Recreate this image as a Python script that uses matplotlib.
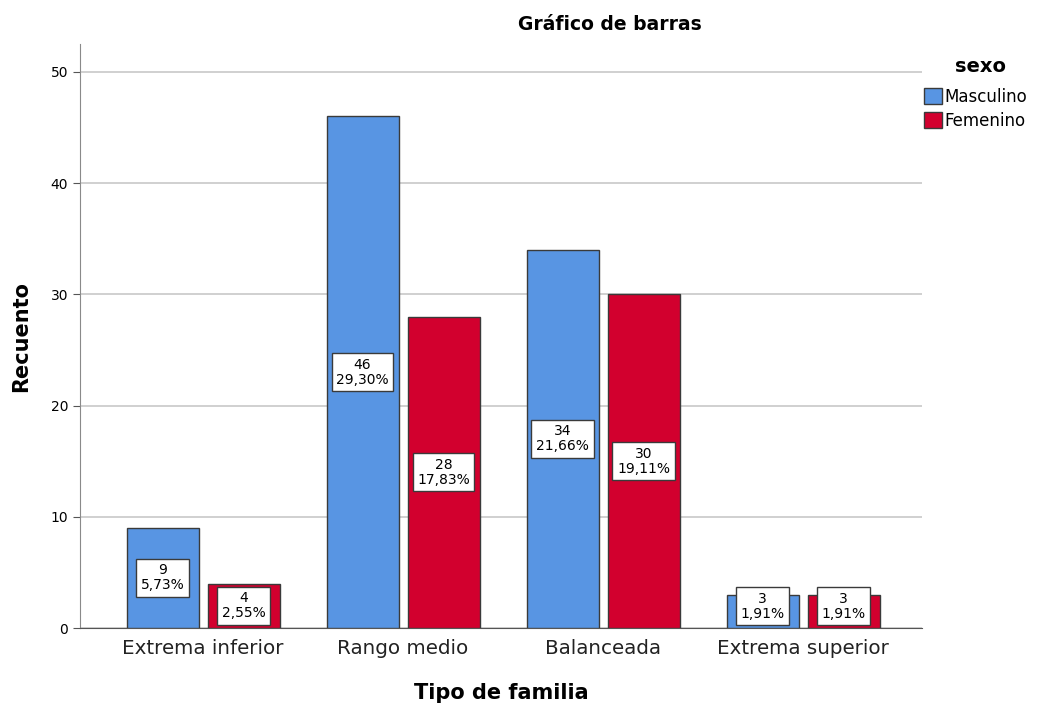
import numpy as np
import matplotlib.pyplot as plt

# -------------------------------------------------------------------
# Data
# -------------------------------------------------------------------
categorias = ["Extrema inferior", "Rango medio", "Balanceada", "Extrema superior"]
masculino = [9, 46, 34, 3]
femenino = [4, 28, 30, 3]
pct_masculino = ["5,73%", "29,30%", "21,66%", "1,91%"]
pct_femenino = ["2,55%", "17,83%", "19,11%", "1,91%"]

AZUL = "#5895e3"
ROJO = "#d2002e"
BORDE = "#3a3a3a"

fig = plt.figure(figsize=(10.38, 7.08), dpi=100)
ax = fig.add_axes([80 / 1038, 80 / 708, 842 / 1038, 584 / 708])

x = np.arange(len(categorias))
off = 0.2025
ancho = 0.36

def etiqueta(xc, valor, pct):
    # caja centrada a media altura, sin bajar de cero
    y = max(valor / 2, 1.95)
    ax.text(xc, y, f"{valor}\n{pct}", ha="center", va="center", fontsize=10,
            linespacing=1.1, zorder=5,
            bbox=dict(boxstyle="square,pad=0.33", fc="white", ec=BORDE, lw=1))

b1 = ax.bar(x - off, masculino, ancho, color=AZUL, edgecolor=BORDE, lw=1,
            label="Masculino", zorder=3)
b2 = ax.bar(x + off, femenino, ancho, color=ROJO, edgecolor=BORDE, lw=1,
            label="Femenino", zorder=3)
for i in range(len(categorias)):
    etiqueta(x[i] - off, masculino[i], pct_masculino[i])
    etiqueta(x[i] + off, femenino[i], pct_femenino[i])

ax.set_xlim(-0.615, 3.595)
ax.set_ylim(0, 52.5)
ax.set_yticks([0, 10, 20, 30, 40, 50])
ax.set_xticks(x)
ax.set_xticklabels(categorias, fontsize=14.3, color="#222222")
ax.tick_params(axis="y", labelsize=10, length=5, color="#555555")
ax.tick_params(axis="x", length=0, pad=8)
ax.grid(axis="y", color="#c8c8c8", lw=1.2, zorder=0)
for s in ["top", "right"]:
    ax.spines[s].set_visible(False)
ax.spines["left"].set_color("#8a8a8a")
ax.spines["bottom"].set_color("#555555")

ax.set_ylabel("Recuento", fontsize=15, fontweight="bold", labelpad=14)
ax.set_xlabel("Tipo de familia", fontsize=15, fontweight="bold", labelpad=18)
fig.text(610 / 1038, 1 - 24 / 708, "Gráfico de barras", ha="center", va="center",
         fontsize=13.5, fontweight="bold")

# leyenda
fig.text(980 / 1038, 1 - 66 / 708, "sexo", ha="center", va="center",
         fontsize=14, fontweight="bold")
fig.legend(handles=[b1, b2], loc="upper left", bbox_to_anchor=(924 / 1038, 1 - 88 / 708),
           frameon=False, fontsize=12, handlelength=1.1, handleheight=1.1,
           handletextpad=0.15, labelspacing=0.35, borderaxespad=0, borderpad=0)

fig.savefig("out.png", dpi=100)
